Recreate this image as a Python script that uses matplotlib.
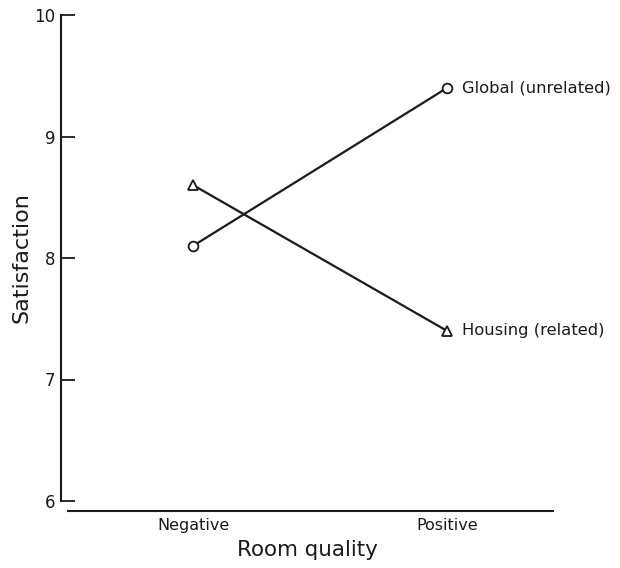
import numpy as np
import matplotlib
matplotlib.use('Agg')
import matplotlib.pyplot as plt

# данные
conditions = ['Negative', 'Positive']
global_vals = [8.1, 9.4]
housing_vals = [8.6, 7.4]
yticks = [6, 7, 8, 9, 10]

ink = '#1a1a1a'
fig = plt.figure(figsize=(6.2, 5.68), dpi=100)
# axes in pixel fractions: left 61, right 553, top 15, bottom 501
W, H = 620, 568
ax = fig.add_axes([61 / W, (H - 501) / H, (553 - 61) / W, (501 - 15) / H])

x = np.arange(len(conditions))
ax.plot(x, global_vals, color=ink, lw=1.6, marker='o', ms=7,
        mfc='white', mec=ink, mew=1.3, zorder=3)
ax.plot(x, housing_vals, color=ink, lw=1.6, marker='^', ms=7,
        mfc='white', mec=ink, mew=1.3, zorder=3)

ax.text(x[1] + 0.06, global_vals[1], 'Global (unrelated)', fontsize=11.8,
        color=ink, va='center', ha='left')
ax.text(x[1] + 0.06, housing_vals[1], 'Housing (related)', fontsize=11.8,
        color=ink, va='center', ha='left')

ax.set_xlim(-0.52, 1.417)
ax.set_ylim(6, 10)

for s in ['top', 'right']:
    ax.spines[s].set_visible(False)
ax.spines['left'].set_bounds(6, 10)
ax.spines['left'].set_linewidth(1.5)
ax.spines['left'].set_color(ink)
ax.spines['bottom'].set_position(('outward', 7))
ax.spines['bottom'].set_bounds(-0.492, 1.417)
ax.spines['bottom'].set_linewidth(1.5)
ax.spines['bottom'].set_color(ink)

ax.set_yticks(yticks)
ax.set_yticklabels([str(v) for v in yticks], fontsize=12)
ax.tick_params(axis='y', direction='in', length=10, width=1.3, colors=ink, pad=4)
ax.set_xticks(x)
ax.set_xticklabels(conditions, fontsize=11.5)
ax.tick_params(axis='x', length=0, pad=5, colors=ink)

ax.set_xlabel('Room quality', fontsize=15.4, color=ink, labelpad=5)
ax.set_ylabel('Satisfaction', fontsize=16, color=ink, labelpad=2)

plt.savefig('out.png', dpi=100)
